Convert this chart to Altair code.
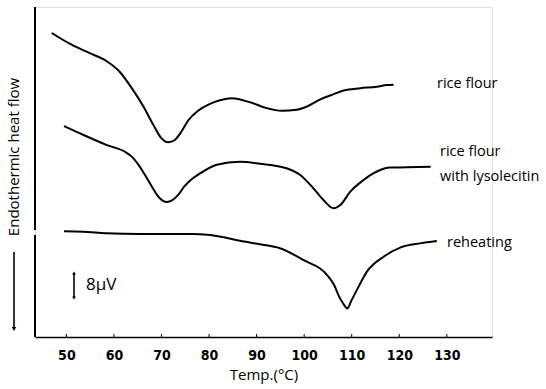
import altair as alt
import pandas as pd

# ---- data (temperature in °C, signal in µV, arbitrary offset) ----
rice_T = [46.9, 51.1, 54.9, 58.4, 61.2, 64.0, 66.2, 68.3, 70.0, 71.4, 72.8, 74.2, 75.6, 77.7,
          80.2, 82.3, 84.8, 88.6, 92.1, 95.3, 98.4, 100.6, 103.4, 106.2, 108.3, 111.8, 115.3,
          117.4, 118.8]
rice_V = [93.5, 89.9, 87.3, 84.9, 81.6, 76.0, 70.9, 65.2, 61.1, 59.9, 60.6, 63.2, 66.6, 69.6,
          71.7, 72.8, 73.4, 72.2, 70.4, 69.6, 69.9, 70.9, 73.1, 74.7, 75.8, 76.5, 77.0,
          77.5, 77.6]

lyso_T = [49.5, 53.5, 58.4, 62.4, 63.8, 65.1, 66.5, 68.0, 69.2, 70.3, 71.2, 72.2, 73.5, 74.8,
          76.4, 78.1, 81.6, 86.5, 90.7, 96.3, 99.1, 101.9, 104.0, 106.2, 107.6, 109.7, 112.5,
          115.3, 118.1, 121.6, 126.6]
lyso_V = [64.9, 62.2, 59.1, 56.9, 55.4, 53.1, 49.9, 46.2, 43.4, 41.9, 41.5, 42.0, 43.7, 46.3,
          48.6, 50.3, 53.0, 53.9, 53.3, 51.9, 49.9, 45.8, 42.2, 39.6, 40.6, 44.7, 48.3,
          50.9, 52.1, 52.2, 52.4]

reheat_T = [49.5, 53.5, 58.4, 65.5, 76.7, 81.6, 86.5, 90.7, 94.9, 99.8, 105.1, 106.3, 107.2,
            108.2, 109.1, 109.9, 111.1, 113.2, 116.7, 120.2, 124.4, 127.9]
reheat_V = [32.5, 32.4, 31.9, 31.7, 31.7, 31.1, 29.6, 28.5, 27.3, 23.7, 18.6, 16.0, 12.9,
            10.3, 8.8, 11.1, 14.5, 20.1, 24.7, 27.5, 28.8, 29.5]

tick_values = [50, 60, 70, 80, 90, 100, 110, 120, 130]
series_labels = ["rice flour", "rice flour", "with lysolecitin", "reheating"]

rows = []
for name, ts, vs in [("rice flour", rice_T, rice_V),
                     ("rice flour with lysolecitin", lyso_T, lyso_V),
                     ("reheating", reheat_T, reheat_V)]:
    for i, (t, v) in enumerate(zip(ts, vs)):
        rows.append({"series": name, "T": t, "V": v, "order": i})
df = pd.DataFrame(rows)

W, H = 457, 330
xscale = alt.Scale(domain=[43.4, 139.5], nice=False, zero=False)
yscale = alt.Scale(domain=[0, 101.5], nice=False, zero=False)

LABEL_FONT = "Open Sans"
NUM_FONT = "Liberation Sans Narrow, DejaVu Sans Condensed, sans-serif"

lines = alt.Chart(df).mark_line(color="black", strokeWidth=2, interpolate="monotone").encode(
    x=alt.X("T:Q", scale=xscale,
            axis=alt.Axis(values=tick_values, title="Temp.(°C)", grid=False, ticks=False,
                          domainColor="black", domainWidth=1.6,
                          labelFont=NUM_FONT, labelFontSize=14, labelFontWeight="bold",
                          labelColor="black", labelPadding=11,
                          titleFont=LABEL_FONT, titleFontSize=15, titleFontWeight="normal",
                          titleColor="black", titlePadding=5)),
    y=alt.Y("V:Q", scale=yscale, axis=None),
    detail="series:N",
    order="order:Q",
)

tick_df = pd.DataFrame({"t": tick_values})
ticks = alt.Chart(tick_df).mark_rule(color="black", strokeWidth=1).encode(
    x=alt.X("t:Q", scale=xscale), y=alt.value(H - 3), y2=alt.value(H)
)

one = pd.DataFrame({"a": [0]})

def rule(x, y, y2, w=1.8):
    return alt.Chart(one).mark_rule(color="black", strokeWidth=w).encode(
        x=alt.value(x), y=alt.value(y), y2=alt.value(y2))

def tri(x, y, shape, size=18):
    return alt.Chart(one).mark_point(shape=shape, filled=True, color="black", size=size, opacity=1).encode(
        x=alt.value(x), y=alt.value(y))

def label(x, y, text, size=14.5, angle=0, align="left"):
    return alt.Chart(one).mark_text(align=align, baseline="middle", font=LABEL_FONT,
                                    fontSize=size, color="black", angle=angle).encode(
        x=alt.value(x), y=alt.value(y), text=alt.value(text))

layers = [
    lines, ticks,
    # y axis line with its small break
    rule(0, 0, 223, 2), rule(0, 228, H, 2),
    # y title and downward arrow
    label(-21, 150, "Endothermic heat flow", size=15, angle=270, align="center"),
    rule(-21, 245, 321, 1.6), tri(-21, 322, "triangle-down", 20),
    # 8 µV scale bar
    rule(39, 267, 290, 1.6), tri(39, 266, "triangle-up", 14), tri(39, 291, "triangle-down", 14),
    label(51, 278, "8μV", size=17),
    # series labels
    label(402, 77, series_labels[0]),
    label(405, 145, series_labels[1]),
    label(405, 170, series_labels[2]),
    label(412, 236, series_labels[3]),
]

chart = alt.layer(*layers).properties(
    width=W, height=H,
    padding={"left": 35, "top": 7, "right": 54, "bottom": 52},
    autosize=alt.AutoSizeParams(type="none"),
).configure_view(stroke=None).configure(background="white")

chart.save("out.html", embed_options={"renderer": "svg", "actions": False})
